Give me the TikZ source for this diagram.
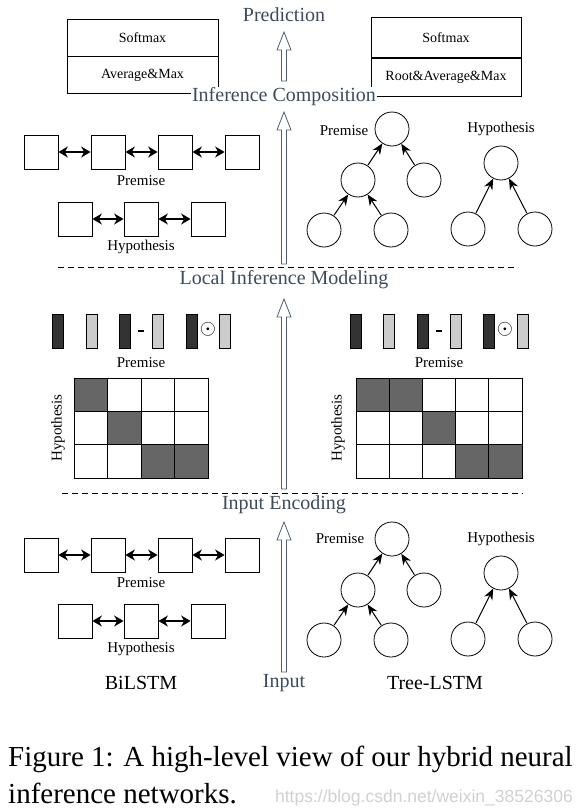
\documentclass[tikz,border=0pt]{standalone}
\usepackage{fontspec}
\setmainfont{Liberation Serif}
\newfontfamily\wmfont{Liberation Sans}
\usetikzlibrary{arrows.meta}
\definecolor{lab}{HTML}{3D4B5E}
\definecolor{arr}{HTML}{4F5E72}
\definecolor{darkv}{HTML}{333333}
\definecolor{lightv}{HTML}{CCCCCC}
\definecolor{cellc}{HTML}{666666}
\begin{document}
\begin{tikzpicture}[x=1pt,y=-1pt,
  sq/.style={draw, line width=0.8pt, minimum size=34pt, inner sep=0pt},
  cir/.style={draw, circle, line width=0.8pt, minimum size=34pt, inner sep=0pt},
  biarr/.style={{Stealth[length=9.5pt,width=11pt]}-{Stealth[length=9.5pt,width=11pt]}, line width=2pt},
  treearr/.style={-{Stealth[length=11pt,width=9pt]}, line width=1pt, shorten <=0.5pt},
  lbl/.style={font=\fontsize{15}{15}\selectfont, inner sep=0pt},
  stage/.style={text=lab, font=\fontsize{20}{20}\selectfont, inner sep=1pt, fill=white},
  big/.style={font=\fontsize{20}{20}\selectfont, inner sep=0pt},
  boxcell/.style={draw, line width=0.8pt, font=\fontsize{14}{14}\selectfont, inner sep=0pt},
  dline/.style={dash pattern=on 6pt off 4pt, line width=0.9pt},
  hollow/.style={draw=arr, line width=0.8pt, fill=white},
  vdark/.style={draw, line width=0.6pt, fill=darkv, minimum width=11pt, minimum height=34pt, inner sep=0pt},
  vlight/.style={draw, line width=0.6pt, fill=lightv, minimum width=11pt, minimum height=34pt, inner sep=0pt},
  op/.style={font=\fontsize{21}{21}\selectfont, inner sep=0pt},
  gcell/.style={draw, line width=0.8pt, minimum width=33.5pt, minimum height=33.33pt, inner sep=0pt},
  dcell/.style={gcell, fill=cellc}
]
\useasboundingbox[fill=white] (0,0) rectangle (580,811);

% hollow arrow command
\newcommand\harrow[2]{%
  \draw[hollow] ([xshift=-2.5pt]#2) -- ([xshift=-2.5pt,yshift=-18pt]#1) -- ([xshift=-7pt,yshift=-18pt]#1) -- (#1)
    -- ([xshift=7pt,yshift=-18pt]#1) -- ([xshift=2.5pt,yshift=-18pt]#1) -- ([xshift=2.5pt]#2) -- cycle;}

% ---------- hollow arrows (drawn first) ----------
\coordinate (a1t) at (284,32); \coordinate (a1b) at (284,81);
\harrow{a1t}{a1b}
\coordinate (a2t) at (284,112); \coordinate (a2b) at (284,264);
\harrow{a2t}{a2b}
\coordinate (a3t) at (284,299); \coordinate (a3b) at (284,489);
\harrow{a3t}{a3b}
\coordinate (a4t) at (284,522); \coordinate (a4b) at (284,672);
\harrow{a4t}{a4b}

% ---------- Top: prediction ----------
\node[stage] (pred) at (284,15) {Prediction};
\node[boxcell, minimum width=151pt, minimum height=37pt] (sm1) at (142.5,37.5) {Softmax};
\node[boxcell, minimum width=151pt, minimum height=37pt, anchor=north] (am1) at (sm1.south) {Average\&Max};
\node[boxcell, minimum width=150pt, minimum height=40pt] (sm2) at (446,37.5) {Softmax};
\node[boxcell, minimum width=150pt, minimum height=38pt, anchor=north] (am2) at (sm2.south) {Root\&Average\&Max};
\node[stage] (icomp) at (284,97) {Inference Composition};

% ---------- Composition BiLSTM ----------
\foreach \n/\x in {1/41,2/108,3/175,4/242} \node[sq] (cp\n) at (\x,152) {};
\foreach \n/\x in {1/75,2/141,3/208} \node[sq] (ch\n) at (\x,219) {};
\draw[biarr] (cp1) -- (cp2); \draw[biarr] (cp2) -- (cp3); \draw[biarr] (cp3) -- (cp4);
\draw[biarr] (ch1) -- (ch2); \draw[biarr] (ch2) -- (ch3);
\node[lbl] (cpl) at (141,181) {Premise};
\node[lbl] (chl) at (141,247) {Hypothesis};

% ---------- Composition Tree ----------
\node[cir] (ct0) at (392,129) {};
\node[cir] (ct1) at (358,180) {};
\node[cir] (ct2) at (424,180) {};
\node[cir] (ct3) at (324,230) {};
\node[cir] (ct4) at (391,230) {};
\draw[treearr] (ct1) -- (ct0); \draw[treearr] (ct2) -- (ct0);
\draw[treearr] (ct3) -- (ct1); \draw[treearr] (ct4) -- (ct1);
\node[lbl] (ctpl) at (344,131) {Premise};
\node[cir] (ch0) at (501,163) {};
\node[cir] (chA) at (468,229) {};
\node[cir] (chB) at (535,229) {};
\draw[treearr] (chA) -- (ch0); \draw[treearr] (chB) -- (ch0);
\node[lbl] (cthl) at (501,129) {Hypothesis};

\coordinate (d1a) at (58,267); \coordinate (d1b) at (518,267);
\draw[dline] (d1a) -- (d1b);
\node[stage] (lim) at (284,280) {Local Inference Modeling};

% ---------- Local inference: vectors ----------
\node[vdark] (lv1) at (57.5,331) {};
\node[vlight] (lv2) at (92,331) {};
\node[vdark] (lv3) at (124.5,331) {};
\node[op] (lm) at (141,331) {\rule{6pt}{2.6pt}};
\node[vlight] (lv4) at (157.5,331) {};
\node[vdark] (lv5) at (191.5,331) {};
\node[op] (lo) at (208,329) {$\odot$};
\node[vlight] (lv6) at (224.5,331) {};
\node[lbl] (lpl) at (141,363) {Premise};

\node[vdark] (rv1) at (355.5,331) {};
\node[vlight] (rv2) at (389,331) {};
\node[vdark] (rv3) at (422.5,331) {};
\node[op] (rm) at (439,331) {\rule{6pt}{2.6pt}};
\node[vlight] (rv4) at (456,331) {};
\node[vdark] (rv5) at (488.5,331) {};
\node[op] (ro) at (505,329) {$\odot$};
\node[vlight] (rv6) at (522.5,331) {};
\node[lbl] (rpl) at (439,363) {Premise};

% ---------- Attention grids ----------
\foreach \r in {0,1,2} \foreach \c in {0,1,2,3} {
  \pgfmathsetmacro\cx{74+33.5*\c+16.75}
  \pgfmathsetmacro\cy{378+33.33*\r+16.67}
  \node[gcell] (lg\r\c) at (\cx,\cy) {};
}
\foreach \r/\c in {0/0,1/1,2/2,2/3} {
  \pgfmathsetmacro\cx{74+33.5*\c+16.75}
  \pgfmathsetmacro\cy{378+33.33*\r+16.67}
  \node[dcell] (ld\r\c) at (\cx,\cy) {};
}
\foreach \r in {0,1,2} \foreach \c in {0,1,2,3,4} {
  \pgfmathsetmacro\cx{356+33.2*\c+16.6}
  \pgfmathsetmacro\cy{378+33.33*\r+16.67}
  \node[gcell, minimum width=33.2pt] (rg\r\c) at (\cx,\cy) {};
}
\foreach \r/\c in {0/0,0/1,1/2,2/3,2/4} {
  \pgfmathsetmacro\cx{356+33.2*\c+16.6}
  \pgfmathsetmacro\cy{378+33.33*\r+16.67}
  \node[dcell, minimum width=33.2pt] (rd\r\c) at (\cx,\cy) {};
}
\node[lbl, rotate=90] (lhl) at (58,428) {Hypothesis};
\node[lbl, rotate=90] (rhl) at (338,428) {Hypothesis};

\coordinate (d2a) at (62,493); \coordinate (d2b) at (523,493);
\draw[dline] (d2a) -- (d2b);
\node[stage] (ienc) at (284,505) {Input Encoding};

% ---------- Input encoding BiLSTM ----------
\foreach \n/\x in {1/41,2/108,3/175,4/242} \node[sq] (ep\n) at (\x,555) {};
\foreach \n/\x in {1/75,2/141,3/208} \node[sq] (eh\n) at (\x,621) {};
\draw[biarr] (ep1) -- (ep2); \draw[biarr] (ep2) -- (ep3); \draw[biarr] (ep3) -- (ep4);
\draw[biarr] (eh1) -- (eh2); \draw[biarr] (eh2) -- (eh3);
\node[lbl] (epl) at (141,583) {Premise};
\node[lbl] (ehl) at (141,649) {Hypothesis};

% ---------- Input encoding Tree ----------
\node[cir] (et0) at (392,539) {};
\node[cir] (et1) at (358,590) {};
\node[cir] (et2) at (424,590) {};
\node[cir] (et3) at (324,640) {};
\node[cir] (et4) at (391,640) {};
\draw[treearr] (et1) -- (et0); \draw[treearr] (et2) -- (et0);
\draw[treearr] (et3) -- (et1); \draw[treearr] (et4) -- (et1);
\node[lbl] (etpl) at (340,539) {Premise};
\node[cir] (eh0) at (501,573) {};
\node[cir] (ehA) at (468,639) {};
\node[cir] (ehB) at (535,639) {};
\draw[treearr] (ehA) -- (eh0); \draw[treearr] (ehB) -- (eh0);
\node[lbl] (ethl) at (501,539) {Hypothesis};

\node[stage] (inp) at (284,683) {Input};
\node[big] (bil) at (141,683) {BiLSTM};
\node[big] (tre) at (435,683) {Tree-LSTM};

% ---------- Caption ----------
\node[anchor=base west, inner sep=0pt, font=\fontsize{29}{29}\selectfont] (cap1) at (8,766) {Figure 1: A high-level view of our hybrid neural};
\node[anchor=base west, inner sep=0pt, font=\fontsize{29}{29}\selectfont] (cap2) at (8,803) {inference networks.};
\node[anchor=base east, inner sep=0pt, text=black!18, font=\wmfont\fontsize{17.5}{17.5}\selectfont] (wm) at (573,802) {https://blog.csdn.net/weixin\_38526306};
\end{tikzpicture}
\end{document}
